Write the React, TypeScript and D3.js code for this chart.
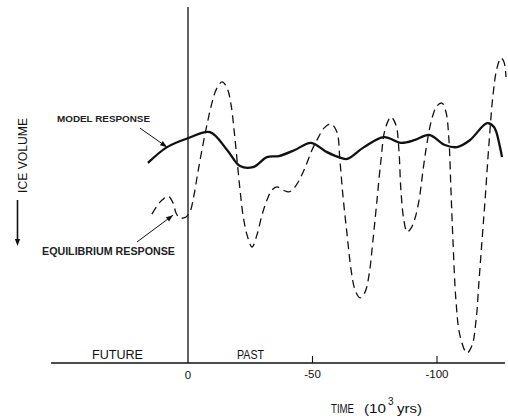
import React from "react";
import * as d3 from "d3";

// time in 10^3 yrs (positive = future, negative = past); ice volume index (larger = more ice, drawn lower)
const modelTime = [16.1, 8.4, 0, -8.8, -15.7, -20.9, -26.1, -31.7, -36.5, -42.9, -49.4, -55.8, -61.4, -63.9, -70.7, -78.7, -85.5, -91.2, -96.8, -103.2, -108.0, -113.3, -120.1, -122.9, -125.3, -126.1];
const modelIce = [44.1, 39.7, 37.2, 35.5, 40.5, 45.0, 45.3, 42.5, 42.2, 40.5, 38.5, 41.1, 42.7, 43.0, 39.7, 36.9, 38.5, 37.7, 36.3, 39.1, 39.7, 37.7, 33.0, 34.1, 39.7, 42.5];

const eqTime = [14.5, 12.4, 10.4, 8.0, 6.0, 4.8, 3.2, 0.8, -0.8, -2.4, -4.0, -5.6, -7.6, -9.6, -11.6, -13.7, -15.7, -17.3, -18.5, -19.7, -20.9, -22.1, -23.7, -25.7, -27.7, -29.7, -31.7, -33.7, -35.7, -38.2, -40.6, -43.0, -46.6, -49.8, -52.2, -54.6, -57.4, -59.8, -61.0, -62.2, -63.9, -65.5, -67.1, -69.1, -71.1, -72.7, -74.3, -75.9, -77.5, -79.1, -81.5, -83.5, -84.7, -85.5, -86.7, -88.0, -89.6, -91.2, -92.8, -94.4, -96.0, -98.0, -100.0, -102.0, -103.6, -104.8, -105.6, -106.4, -107.6, -109.2, -112.0, -114.1, -115.7, -116.9, -118.1, -119.3, -120.9, -122.5, -124.1, -125.7, -126.9, -127.7];
const eqIce = [58.4, 56.1, 54.5, 53.4, 55.3, 58.1, 59.5, 59.2, 57.8, 53.1, 46.6, 40.5, 33.5, 27.4, 23.2, 21.5, 23.2, 27.9, 34.9, 43.3, 51.7, 58.7, 64.2, 67.6, 64.2, 58.7, 54.5, 51.7, 50.8, 51.7, 52.2, 50.8, 46.1, 40.5, 37.2, 34.4, 33.2, 35.5, 43.3, 53.1, 64.2, 74.0, 79.6, 81.8, 80.2, 75.4, 65.6, 54.5, 43.3, 34.9, 31.3, 33.5, 40.5, 51.7, 60.1, 63.4, 62.3, 59.5, 54.5, 46.1, 38.5, 31.6, 28.2, 27.4, 29.9, 37.7, 51.7, 65.6, 82.4, 92.2, 97.2, 95.0, 88.0, 76.8, 65.6, 54.5, 38.5, 25.1, 17.6, 14.8, 15.9, 20.1];

const tickValues = [-50, -100];
const tickLabels = ["-50", "-100"];

export default function App() {
  const x = d3.scaleLinear().domain([0, -100]).range([188, 437]);
  const y = d3.scaleLinear().domain([0, 100]).range([5, 363]);

  const model = modelTime.map((t, i) => [t, modelIce[i]] as [number, number]);
  const eq = eqTime.map((t, i) => [t, eqIce[i]] as [number, number]);
  const line = d3
    .line<[number, number]>()
    .x((d) => x(d[0]))
    .y((d) => y(d[1]))
    .curve(d3.curveCatmullRom.alpha(0.5));

  const font = "'Liberation Sans', Arial, sans-serif";
  const baseY = y(100);

  const arrowHead = (x1: number, y1: number, x2: number, y2: number, len = 7, w = 2.6) => {
    const a = Math.atan2(y2 - y1, x2 - x1);
    const bx = x2 - len * Math.cos(a);
    const by = y2 - len * Math.sin(a);
    const px = -Math.sin(a) * w;
    const py = Math.cos(a) * w;
    return `M${x2},${y2}L${bx + px},${by + py}L${bx - px},${by - py}Z`;
  };

  const mA = [x(19.3), y(34.4), x(8.4), y(39.7)];
  const eA = [x(20.5), y(66.2), x(6.0), y(58.7)];

  return (
    <svg
      width={508}
      height={420}
      style={{ position: "absolute", left: 0, top: 0, background: "#fff" }}
      fontFamily={font}
    >
      <rect width={508} height={420} fill="#fff" />
      {/* axes */}
      <line x1={x(0)} x2={x(0)} y1={7} y2={baseY} stroke="#111" strokeWidth={1.3} />
      <line x1={x(55)} x2={x(-127.3)} y1={baseY} y2={baseY} stroke="#111" strokeWidth={1.3} />
      {tickValues.map((v, i) => (
        <g key={v}>
          <line x1={x(v)} x2={x(v)} y1={baseY - 7} y2={baseY} stroke="#111" strokeWidth={1.1} />
          <text x={x(v)} y={378} textAnchor="middle" fontSize={11.5} fill="#111">
            {tickLabels[i]}
          </text>
        </g>
      ))}
      <text x={x(0)} y={379} textAnchor="middle" fontSize={11.5} fill="#111">0</text>

      {/* curves */}
      <path d={line(eq) ?? ""} fill="none" stroke="#111" strokeWidth={1.3} strokeDasharray="8,5" />
      <path d={line(model) ?? ""} fill="none" stroke="#111" strokeWidth={2.3} />

      {/* labels */}
      <text x={92} y={359} fontSize={12} fill="#111" textLength={51} lengthAdjust="spacingAndGlyphs">FUTURE</text>
      <text x={237} y={359} fontSize={12} fill="#111" textLength={27} lengthAdjust="spacingAndGlyphs">PAST</text>

      <text x={331} y={413} fontSize={12.5} fill="#111" textLength={23} lengthAdjust="spacingAndGlyphs">TIME</text>
      <text x={364} y={413} fontSize={12.5} fill="#111" textLength={22} lengthAdjust="spacingAndGlyphs">(10</text>
      <text x={388} y={405} fontSize={10} fill="#111">3</text>
      <text x={397} y={413} fontSize={12.5} fill="#111" textLength={25} lengthAdjust="spacingAndGlyphs">yrs)</text>

      <text x={57} y={122} fontSize={9.5} fontWeight="bold" fill="#222" textLength={93} lengthAdjust="spacingAndGlyphs">MODEL RESPONSE</text>
      <text x={42} y={255} fontSize={10} fontWeight="bold" fill="#222" textLength={133} lengthAdjust="spacingAndGlyphs">EQUILIBRIUM RESPONSE</text>

      <line x1={mA[0]} y1={mA[1]} x2={mA[2]} y2={mA[3]} stroke="#111" strokeWidth={1} />
      <path d={arrowHead(mA[0], mA[1], mA[2], mA[3])} fill="#111" />
      <line x1={eA[0]} y1={eA[1]} x2={eA[2]} y2={eA[3]} stroke="#111" strokeWidth={1} />
      <path d={arrowHead(eA[0], eA[1], eA[2], eA[3])} fill="#111" />

      <text
        transform="translate(27,193) rotate(-90)"
        fontSize={12.5}
        fill="#111"
        textLength={75}
        lengthAdjust="spacingAndGlyphs"
      >
        ICE VOLUME
      </text>
      <line x1={17.5} x2={17.5} y1={200} y2={240} stroke="#111" strokeWidth={1.6} />
      <path d={arrowHead(17.5, 200, 17.5, 246, 7, 2.6)} fill="#111" />
    </svg>
  );
}
